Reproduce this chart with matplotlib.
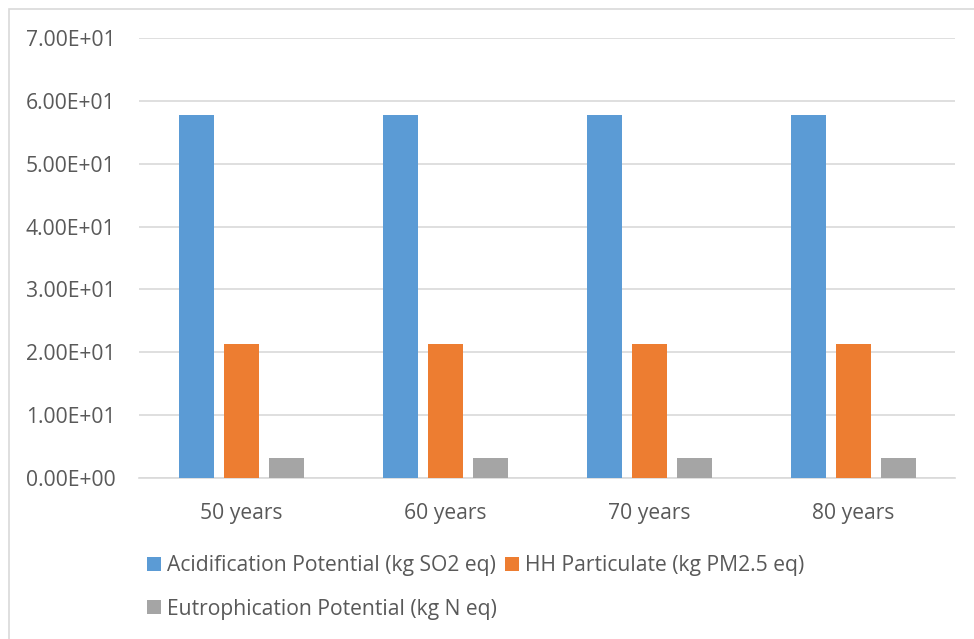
import matplotlib
matplotlib.use('Agg')
import matplotlib.pyplot as plt
import numpy as np
from matplotlib.patches import Rectangle

plt.rcParams['font.family'] = ['Open Sans', 'DejaVu Sans']

categories = ['50 years', '60 years', '70 years', '80 years']
acidification = [57.8, 57.8, 57.8, 57.8]
particulate = [21.3, 21.3, 21.3, 21.3]
eutrophication = [3.2, 3.2, 3.2, 3.2]
series_names = ['Acidification Potential (kg SO2 eq)',
                'HH Particulate (kg PM2.5 eq)',
                'Eutrophication Potential (kg N eq)']
colors = ['#5B9BD5', '#ED7D31', '#A5A5A5']
yticks = [0, 10, 20, 30, 40, 50, 60, 70]

fs = 15.2

fig = plt.figure(figsize=(9.74, 6.39), dpi=100)
ax = fig.add_axes([139/974, 1-478/639, 816/974, 440/639])

x = np.arange(len(categories))
w = 35/204
step = 45/204
bars = []
for i, (vals, c) in enumerate(zip([acidification, particulate, eutrophication], colors)):
    b = ax.bar(x + (i-1)*step, vals, width=w, color=c, label=series_names[i], zorder=3)
    bars.append(b)

ax.set_xlim(-0.5, len(categories)-0.5)
ax.set_ylim(0, 70)
ax.set_yticks(yticks)
ax.set_yticklabels([f'{v:.2E}' for v in yticks])
ax.set_xticks(x)
ax.set_xticklabels(categories)
ax.grid(axis='y', color='#d9d9d9', linewidth=1.2, zorder=0)
for s in ['top', 'right', 'left']:
    ax.spines[s].set_visible(False)
ax.spines['bottom'].set_color('#d9d9d9')
ax.spines['bottom'].set_linewidth(1.2)
ax.tick_params(axis='both', length=0, labelsize=fs, colors='#595959')
ax.tick_params(axis='y', pad=17)
ax.tick_params(axis='x', pad=18)

# order so rows read: Acid, HH / Eutro
h = [bars[0], bars[2], bars[1]]
leg = fig.legend(h, [series_names[0], series_names[2], series_names[1]],
                 ncol=2, loc='upper left', bbox_to_anchor=(147/974, 1-555/639),
                 frameon=False, fontsize=fs, handlelength=0.65, handleheight=0.65,
                 handletextpad=0.31, columnspacing=0.38, labelspacing=1.08,
                 borderpad=0, borderaxespad=0)
for t in leg.get_texts():
    t.set_color('#595959')

fig.patches.append(Rectangle((8.5/974, -0.05), 1.1, 1.05 - 9/639, transform=fig.transFigure,
                             fill=False, edgecolor='#d9d9d9', linewidth=1.2))

fig.savefig('out.png', dpi=100)
